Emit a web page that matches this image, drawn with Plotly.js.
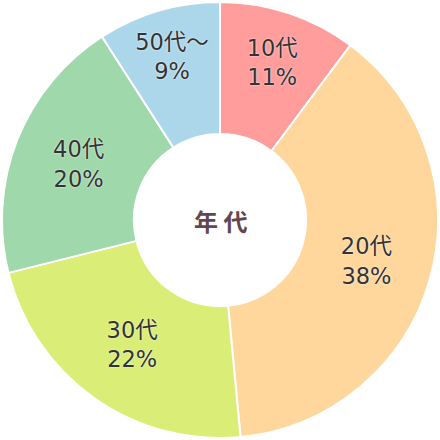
<!DOCTYPE html>
<html><head><meta charset="utf-8">
<script src="https://cdn.plot.ly/plotly-3.0.1.min.js"></script>
<style>html,body{margin:0;padding:0;background:#fff}#c{width:440px;height:440px}</style>
</head><body><div id="c"></div>
<script>
const categories = ["10代", "20代", "30代", "40代", "50代～"];
const sliceValues = [10.2, 38.3, 22.6, 19.8, 9.1];
const percentLabels = ["11%", "38%", "22%", "20%", "9%"];
const colors = ["#ff9c9c", "#ffd69b", "#daed76", "#9fd8aa", "#acd7ea"];
const centerLabel = "年 代";

const labelsText = categories.map((c, i) => c + "<br>" + percentLabels[i]);

Plotly.newPlot("c", [{
  type: "pie",
  labels: categories,
  values: sliceValues,
  text: labelsText,
  textinfo: "text",
  hoverinfo: "none",
  sort: false,
  direction: "clockwise",
  rotation: 0,
  hole: 0.395,
  marker: {colors: colors, line: {color: "#ffffff", width: 2}},
  textposition: "inside",
  insidetextorientation: "horizontal",
  textfont: {family: "DejaVu Sans, Noto Sans CJK JP, sans-serif", size: 22.5, color: "#333333", shadow: "0 0 2px #ffffff"},
  showlegend: false
}], {
  width: 440, height: 440,
  margin: {l: 2, r: 2, t: 2, b: 2},
  paper_bgcolor: "#ffffff",
  annotations: [{
    text: "<b>" + centerLabel + "</b>",
    x: 0.5, y: 0.5, xref: "paper", yref: "paper",
    showarrow: false,
    font: {family: "Noto Sans CJK JP, sans-serif", size: 24, color: "#634650"}
  }]
}, {staticPlot: true});
</script></body></html>
